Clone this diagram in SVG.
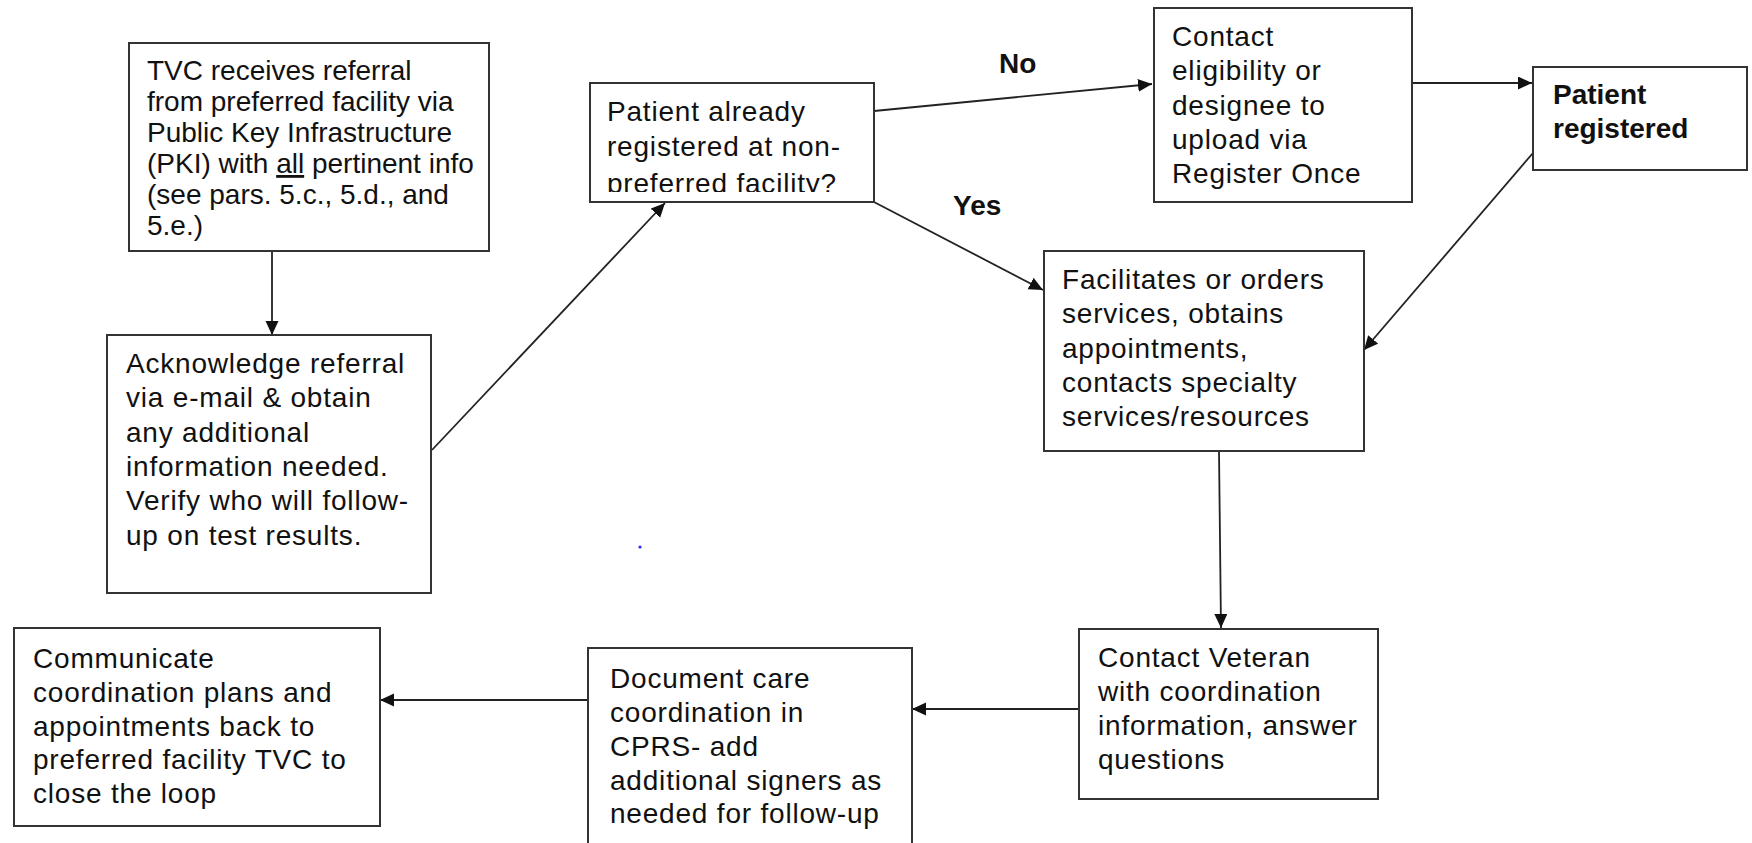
<svg xmlns="http://www.w3.org/2000/svg" width="1752" height="843" viewBox="0 0 1752 843">
<style>
.box{fill:#fff;stroke:#333;stroke-width:2}
.t{font-family:"Liberation Sans",Arial,sans-serif;font-size:28px;fill:#111;letter-spacing:0.8px}
.ta{letter-spacing:0}
.b{font-weight:bold;letter-spacing:0}
.c{fill:none;stroke:#222;stroke-width:1.8}
</style>
<defs>
<marker id="ah" markerUnits="userSpaceOnUse" markerWidth="16" markerHeight="14" refX="14" refY="6.5" orient="auto">
<path d="M0,0 L14,6.5 L0,13 z" fill="#111"/>
</marker>
<clipPath id="clipC"><rect x="590" y="83" width="284" height="109"/></clipPath>
</defs>
<rect width="1752" height="843" fill="#fff"/>
<g id="connectors">
<line class="c" x1="272" y1="251" x2="272" y2="335" marker-end="url(#ah)"/>
<line class="c" x1="432" y1="450" x2="665" y2="203" marker-end="url(#ah)"/>
<line class="c" x1="874" y1="111" x2="1152" y2="84" marker-end="url(#ah)"/>
<line class="c" x1="874" y1="202" x2="1043" y2="290" marker-end="url(#ah)"/>
<line class="c" x1="1412" y1="83" x2="1532" y2="83" marker-end="url(#ah)"/>
<line class="c" x1="1533" y1="153" x2="1364" y2="350" marker-end="url(#ah)"/>
<line class="c" x1="1219" y1="451" x2="1221" y2="628" marker-end="url(#ah)"/>
<line class="c" x1="1079" y1="709" x2="912" y2="709" marker-end="url(#ah)"/>
<line class="c" x1="588" y1="700" x2="380" y2="700" marker-end="url(#ah)"/>
<text class="t b" x="999" y="73">No</text>
<text class="t b" x="953" y="215">Yes</text>
</g>
<g id="nodeA">
<rect class="box" x="129" y="43" width="360" height="208"/>
<text class="t ta" x="147"><tspan x="147" y="80">TVC receives referral</tspan><tspan x="147" y="111">from preferred facility via</tspan><tspan x="147" y="142">Public Key Infrastructure</tspan><tspan x="147" y="173">(PKI) with <tspan text-decoration="underline">all</tspan> pertinent info</tspan><tspan x="147" y="204">(see pars. 5.c., 5.d., and</tspan><tspan x="147" y="235">5.e.)</tspan></text>
</g>
<g id="nodeB">
<rect class="box" x="107" y="335" width="324" height="258"/>
<text class="t" x="126"><tspan x="126" y="373">Acknowledge referral</tspan><tspan x="126" y="407">via e-mail &amp; obtain</tspan><tspan x="126" y="442">any additional</tspan><tspan x="126" y="476">information needed.</tspan><tspan x="126" y="510">Verify who will follow-</tspan><tspan x="126" y="545">up on test results.</tspan></text>
</g>
<g id="nodeC">
<rect class="box" x="590" y="83" width="284" height="119"/>
<text class="t" x="607" clip-path="url(#clipC)"><tspan x="607" y="121">Patient already</tspan><tspan x="607" y="156">registered at non-</tspan><tspan x="607" y="193">preferred facility?</tspan></text>
</g>
<g id="nodeD">
<rect class="box" x="1154" y="8" width="258" height="194"/>
<text class="t" x="1172"><tspan x="1172" y="46">Contact</tspan><tspan x="1172" y="80">eligibility or</tspan><tspan x="1172" y="115">designee to</tspan><tspan x="1172" y="149">upload via</tspan><tspan x="1172" y="183">Register Once</tspan></text>
</g>
<g id="nodeE">
<rect class="box" x="1533" y="67" width="214" height="103"/>
<text class="t b" x="1553"><tspan x="1553" y="104">Patient</tspan><tspan x="1553" y="138">registered</tspan></text>
</g>
<g id="nodeF">
<rect class="box" x="1044" y="251" width="320" height="200"/>
<text class="t" x="1062"><tspan x="1062" y="289">Facilitates or orders</tspan><tspan x="1062" y="323">services, obtains</tspan><tspan x="1062" y="358">appointments,</tspan><tspan x="1062" y="392">contacts specialty</tspan><tspan x="1062" y="426">services/resources</tspan></text>
</g>
<g id="nodeG">
<rect class="box" x="1079" y="629" width="299" height="170"/>
<text class="t" x="1098"><tspan x="1098" y="667">Contact Veteran</tspan><tspan x="1098" y="701">with coordination</tspan><tspan x="1098" y="735">information, answer</tspan><tspan x="1098" y="769">questions</tspan></text>
</g>
<g id="nodeH">
<rect class="box" x="588" y="648" width="324" height="230"/>
<text class="t" x="610"><tspan x="610" y="688">Document care</tspan><tspan x="610" y="722">coordination in</tspan><tspan x="610" y="756">CPRS- add</tspan><tspan x="610" y="790">additional signers as</tspan><tspan x="610" y="823">needed for follow-up</tspan></text>
</g>
<g id="nodeI">
<rect class="box" x="14" y="628" width="366" height="198"/>
<text class="t" x="33"><tspan x="33" y="668">Communicate</tspan><tspan x="33" y="702">coordination plans and</tspan><tspan x="33" y="736">appointments back to</tspan><tspan x="33" y="769">preferred facility TVC to</tspan><tspan x="33" y="803">close the loop</tspan></text>
</g>
<circle cx="640" cy="547" r="1.6" fill="#2a2aff"/>
</svg>
